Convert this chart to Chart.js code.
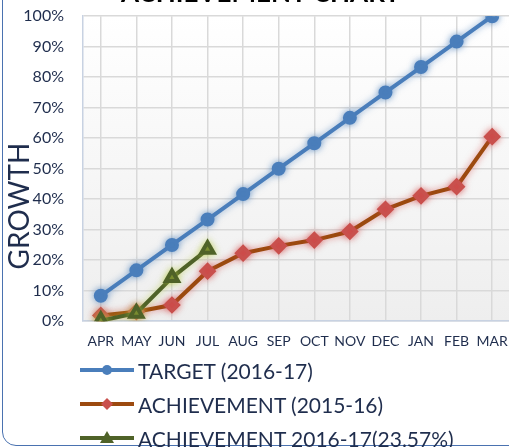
<!DOCTYPE html>
<html>
<head>
<meta charset="utf-8">
<script src="https://cdn.jsdelivr.net/npm/chart.js@4"></script>
<style>
  body { margin: 0; width: 509px; height: 447px; overflow: hidden; background: #fff; position: relative; font-family: Lato, sans-serif; }
  #frame { position: absolute; left: 2px; top: -40px; width: 560px; height: 486px; box-sizing: border-box; border: 1.5px solid #4a72b0; border-radius: 14px; }
  #wrap { position: absolute; left: 0; top: -22px; width: 521px; height: 380px; }
  #legend { position: absolute; left: 80px; top: 353px; }
  .item { height: 34px; display: flex; align-items: center; font-size: 21px; color: #1f2d4d; white-space: nowrap; }
  .item svg { margin-right: 4px; }
</style>
</head>
<body>
<div id="frame"></div>
<div id="wrap"><canvas id="myChart"></canvas></div>
<div id="legend"></div>
<script>
const months = ['APR', 'MAY', 'JUN', 'JUL', 'AUG', 'SEP', 'OCT', 'NOV', 'DEC', 'JAN', 'FEB', 'MAR'];
const target1617 = [8.33, 16.67, 25, 33.33, 41.67, 50, 58.33, 66.67, 75, 83.33, 91.67, 100];
const achieve1516 = [1.9, 3.1, 5.3, 16.4, 22.3, 24.7, 26.6, 29.4, 36.7, 41.1, 44.1, 60.5];
const achieve1617 = [0.2, 2.6, 14.3, 23.57];
const yTicks = [0, 10, 20, 30, 40, 50, 60, 70, 80, 90, 100];

const textColor = '#1f2d4d';

// plot background
const plotBg = {
    id: 'plotBg',
    beforeDraw(chart) {
        const { ctx, chartArea: a } = chart;
        const g = ctx.createLinearGradient(0, a.top, 0, a.bottom);
        g.addColorStop(0, '#ffffff');
        g.addColorStop(1, '#eeeeee');
        ctx.save();
        ctx.fillStyle = g;
        ctx.fillRect(a.left, a.top, a.right - a.left, a.bottom - a.top);
        ctx.restore();
    }
};

// soft glow under each series
const glow = {
    id: 'glow',
    beforeDatasetDraw(chart, args) {
        const ds = chart.data.datasets[args.index];
        chart.ctx.save();
        chart.ctx.shadowColor = ds.glowColor;
        chart.ctx.shadowBlur = 7;
    },
    afterDatasetDraw(chart) {
        chart.ctx.restore();
    }
};

// y axis title, sits over the tick column like the original
const growthTitle = {
    id: 'growthTitle',
    afterDraw(chart) {
        const ctx = chart.ctx;
        ctx.save();
        ctx.translate(20, 228);
        ctx.rotate(-Math.PI / 2);
        ctx.font = '28px Lato';
        ctx.fillStyle = textColor;
        ctx.textAlign = 'center';
        ctx.textBaseline = 'middle';
        ctx.fillText('GROWTH', 0, 0);
        ctx.restore();
    }
};

// html legend with line + marker samples
const markers = {
    circle: c => `<circle cx="27" cy="8" r="5" fill="${c}"/>`,
    rectRot: c => `<polygon points="27,2 33,8 27,14 21,8" fill="${c}"/>`,
    triangle: c => `<polygon points="27,1 34,13 20,13" fill="${c}"/>`
};
const htmlLegend = {
    id: 'htmlLegend',
    afterUpdate(chart) {
        const box = document.getElementById('legend');
        box.innerHTML = chart.data.datasets.map(ds =>
            `<div class="item"><svg width="54" height="16"><line x1="0" y1="8" x2="54" y2="8" stroke="${ds.borderColor}" stroke-width="4" stroke-linecap="round"/>${markers[ds.pointStyle](ds.pointBackgroundColor)}</svg>${ds.label}</div>`
        ).join('');
    }
};

const ctx = document.getElementById('myChart').getContext('2d');
const myChart = new Chart(ctx, {
    type: 'line',
    data: {
        labels: months,
        datasets: [{
            label: 'TARGET (2016-17)',
            data: target1617,
            borderColor: '#4a7ebb',
            pointBackgroundColor: '#4a7ebb',
            pointBorderColor: '#4a7ebb',
            glowColor: 'rgba(74,126,187,0.6)',
            borderWidth: 4,
            pointStyle: 'circle',
            pointRadius: 5,
            order: 0
        }, {
            label: 'ACHIEVEMENT (2015-16)',
            data: achieve1516,
            borderColor: '#9c4a0f',
            pointBackgroundColor: '#c9504d',
            pointBorderColor: '#c9504d',
            glowColor: 'rgba(210,70,70,0.6)',
            borderWidth: 4,
            pointStyle: 'rectRot',
            pointRadius: 6,
            order: 2
        }, {
            label: 'ACHIEVEMENT 2016-17(23.57%)',
            data: achieve1617,
            borderColor: '#4f6228',
            pointBackgroundColor: '#4f6228',
            pointBorderColor: '#4f6228',
            glowColor: 'rgba(180,200,60,0.6)',
            borderWidth: 4,
            pointStyle: 'triangle',
            pointRadius: 7,
            order: 1
        }]
    },
    options: {
        responsive: true,
        maintainAspectRatio: false,
        animation: false,
        layout: { padding: { left: 0, right: 0, top: 0, bottom: 6 } },
        plugins: {
            legend: { display: false },
            tooltip: { enabled: false },
            title: {
                display: true,
                text: 'ACHIEVEMENT CHART',
                color: '#000',
                font: { family: 'Lato', size: 26, weight: 'bold' },
                padding: { top: 0, bottom: 7 }
            }
        },
        scales: {
            x: {
                offset: true,
                grid: { color: '#d9d9d9', lineWidth: 1.5, drawTicks: true, tickLength: 10, tickColor: 'transparent' },
                border: { color: '#c8d2e2', width: 1.5 },
                ticks: { color: textColor, font: { family: 'Lato', size: 14 }, padding: 2, maxRotation: 0, autoSkip: false }
            },
            y: {
                min: 0,
                max: 100,
                afterFit: s => { s.width = 83; },
                afterBuildTicks: s => { s.ticks = yTicks.map(v => ({ value: v })); },
                grid: { color: '#d9d9d9', lineWidth: 1.5, drawTicks: false },
                border: { color: '#c8d2e2', width: 1.5 },
                ticks: { color: textColor, font: { family: 'Lato', size: 16 }, padding: 19, callback: v => v + '%' }
            }
        }
    },
    plugins: [plotBg, glow, growthTitle, htmlLegend]
});
</script>
</body>
</html>
